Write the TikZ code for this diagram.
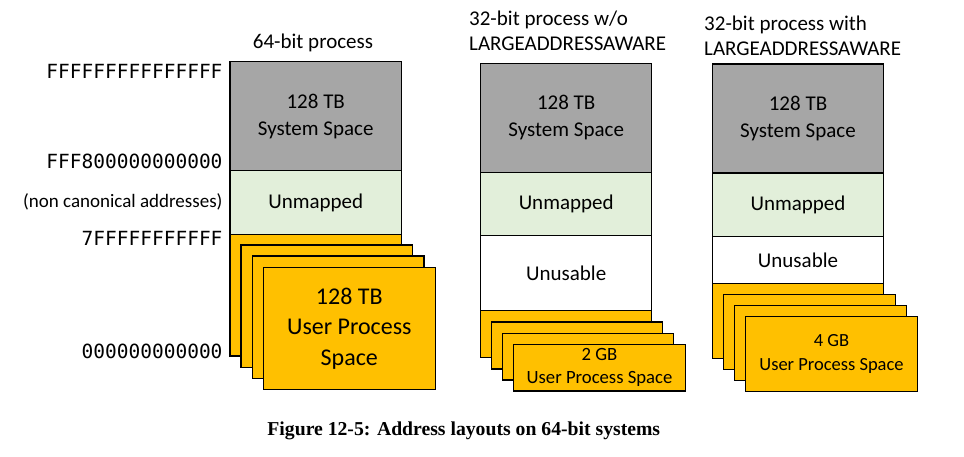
\documentclass[tikz,border=0pt]{standalone}
\usepackage{fontspec}
\setmainfont{Carlito}
\newfontfamily\hexfont{DejaVu Sans Mono}
\newfontfamily\capfont{Liberation Serif}
\definecolor{sysgray}{HTML}{A6A6A6}
\definecolor{unmapgreen}{HTML}{E2EFDA}
\definecolor{useryellow}{HTML}{FFC000}
\begin{document}
\begin{tikzpicture}[x=1pt,y=-1pt,
  seg/.style={draw=black, line width=1.2pt, inner sep=0pt, outer sep=0pt,
    anchor=north west, align=center, font=\fontsize{21}{27}\selectfont},
  sysbox/.style={seg, fill=sysgray},
  unmapbox/.style={seg, fill=unmapgreen},
  unusebox/.style={seg, fill=white},
  userbox/.style={seg, fill=useryellow},
  lbl/.style={inner sep=0pt, font=\fontsize{21}{25}\selectfont},
  hexlbl/.style={inner sep=0pt, anchor=base east, font=\hexfont\fontsize{19.5}{22}\selectfont},
  notelbl/.style={inner sep=0pt, anchor=base east, font=\fontsize{19}{22}\selectfont}
]
\useasboundingbox (0,0) rectangle (964,456);

% ---------- column 1: 64-bit process ----------
\node[lbl, anchor=base] (t1) at (313,48) {64-bit process};
\node[sysbox, minimum width=171.5pt, minimum height=109pt] (s1) at (230,61.7) {128 TB\\System Space};
\node[unmapbox, minimum width=171.5pt, minimum height=63.6pt] (u1) at (230,170.7) {Unmapped};
\node[userbox, minimum width=171.5pt, minimum height=121.7pt] (p1a) at (230,234.3) {};
\node[userbox, minimum width=171.7pt, minimum height=122.3pt] (p1b) at (241,245) {};
\node[userbox, minimum width=171.7pt, minimum height=122.3pt] (p1c) at (252.3,256) {};
\node[userbox, minimum width=172pt, minimum height=121.6pt,
      font=\fontsize{24}{30.5}\selectfont] (p1d) at (263.3,267.7) {128 TB\\User Process\\Space};

\node[hexlbl] (h1) at (222.7,78.3) {FFFFFFFFFFFFFFF};
\node[hexlbl] (h2) at (222.7,168) {FFF800000000000};
\node[notelbl] (h3) at (222.7,207.7) {(non canonical addresses)};
\node[hexlbl] (h4) at (222.7,245) {7FFFFFFFFFFF};
\node[hexlbl] (h5) at (222.7,358.3) {000000000000};

% ---------- column 2: 32-bit w/o LAA ----------
\node[lbl, anchor=base west] (t2a) at (469,25) {32-bit process w/o};
\node[lbl, anchor=base west] (t2b) at (469,50.7) {LARGEADDRESSAWARE};
\node[sysbox, minimum width=171pt, minimum height=109pt] (s2) at (480.7,63.3) {128 TB\\System Space};
\node[unmapbox, minimum width=171pt, minimum height=63.4pt] (u2) at (480.7,172.3) {Unmapped};
\node[unusebox, minimum width=171pt, minimum height=75pt] (n2) at (480.7,235.7) {Unusable};
\node[userbox, minimum width=171pt, minimum height=47pt] (p2a) at (480.7,310.7) {};
\node[userbox, minimum width=171pt, minimum height=47pt] (p2b) at (491.7,322) {};
\node[userbox, minimum width=171pt, minimum height=46.7pt] (p2c) at (502.7,333.3) {};
\node[userbox, minimum width=171.6pt, minimum height=46.7pt,
      font=\fontsize{18.7}{23.5}\selectfont] (p2d) at (513.7,344.3) {2 GB\\User Process Space};

% ---------- column 3: 32-bit with LAA ----------
\node[lbl, anchor=base west] (t3a) at (704,30) {32-bit process with};
\node[lbl, anchor=base west] (t3b) at (704,55) {LARGEADDRESSAWARE};
\node[sysbox, minimum width=171.4pt, minimum height=109pt] (s3) at (712.3,64) {128 TB\\System Space};
\node[unmapbox, minimum width=171.4pt, minimum height=63.3pt] (u3) at (712.3,173) {Unmapped};
\node[unusebox, minimum width=171.4pt, minimum height=47pt] (n3) at (712.3,236.3) {Unusable};
\node[userbox, minimum width=171.4pt, minimum height=75pt] (p3a) at (712.3,283.3) {};
\node[userbox, minimum width=172pt, minimum height=75pt] (p3b) at (723.3,294.3) {};
\node[userbox, minimum width=172pt, minimum height=75pt] (p3c) at (734.7,305.7) {};
\node[userbox, minimum width=171.6pt, minimum height=75pt,
      font=\fontsize{18.5}{23.5}\selectfont] (p3d) at (745.7,316.7) {4 GB\\User Process Space};

% ---------- caption ----------
\node[inner sep=0pt, anchor=base, font=\capfont\bfseries\fontsize{19.7}{22}\selectfont]
  (cap) at (463.8,435) {Figure 12-5: Address layouts on 64-bit systems};
\end{tikzpicture}
\end{document}
